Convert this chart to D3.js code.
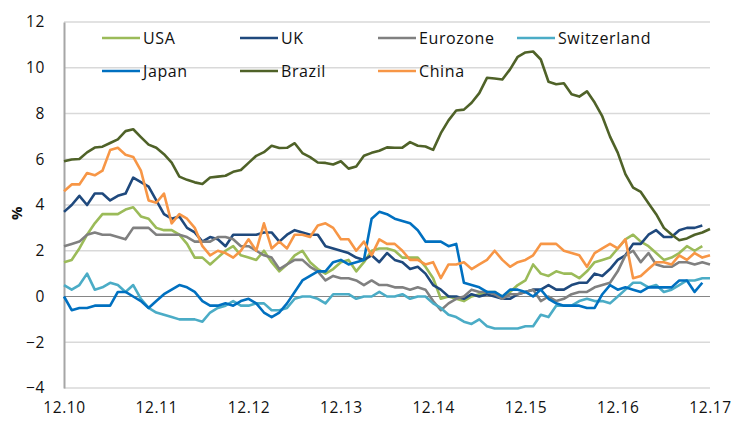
<!DOCTYPE html>
<html>
<head>
<meta charset="utf-8">
<script src="https://cdn.jsdelivr.net/npm/d3@7"></script>
<style>
  body { margin: 0; background: #fff; }
  text { font-family: "Open Sans", "Liberation Sans", sans-serif; fill: #111; letter-spacing: 0.6px; }
</style>
</head>
<body>
<div id="chart"></div>
<script>
// Monthly inflation, % y/y, Dec 2010 .. Dec 2017
const usa = [1.5,1.6,2.1,2.7,3.2,3.6,3.6,3.6,3.8,3.9,3.5,3.4,3.0,2.9,2.9,2.7,2.3,1.7,1.7,1.4,1.7,2.0,2.2,1.8,1.7,1.6,2.0,1.5,1.1,1.4,1.8,2.0,1.5,1.2,1.0,1.2,1.5,1.6,1.1,1.5,2.0,2.1,2.1,2.0,1.7,1.7,1.7,1.3,0.8,-0.1,0.0,-0.1,-0.2,0.0,0.1,0.2,0.2,0.0,0.2,0.5,0.7,1.4,1.0,0.9,1.1,1.0,1.0,0.8,1.1,1.5,1.6,1.7,2.1,2.5,2.7,2.4,2.2,1.9,1.6,1.7,1.9,2.2,2.0,2.2];
const uk = [3.7,4.0,4.4,4.0,4.5,4.5,4.2,4.4,4.5,5.2,5.0,4.8,4.2,3.6,3.4,3.5,3.0,2.8,2.4,2.6,2.5,2.2,2.7,2.7,2.7,2.7,2.8,2.8,2.4,2.7,2.9,2.8,2.7,2.7,2.2,2.1,2.0,1.9,1.7,1.6,1.8,1.5,1.9,1.6,1.5,1.2,1.3,1.0,0.5,0.3,0.0,0.0,-0.1,0.1,0.0,0.1,0.0,-0.1,-0.1,0.1,0.2,0.3,0.3,0.5,0.3,0.3,0.5,0.6,0.6,1.0,0.9,1.2,1.6,1.8,2.3,2.3,2.7,2.9,2.6,2.6,2.9,3.0,3.0,3.1];
const eurozone = [2.2,2.3,2.4,2.7,2.8,2.7,2.7,2.6,2.5,3.0,3.0,3.0,2.7,2.7,2.7,2.7,2.6,2.4,2.4,2.4,2.6,2.6,2.5,2.2,2.2,2.0,1.8,1.7,1.2,1.4,1.6,1.6,1.3,1.1,0.7,0.9,0.8,0.8,0.7,0.5,0.7,0.5,0.5,0.4,0.4,0.3,0.4,0.3,-0.2,-0.6,-0.3,-0.1,0.0,0.3,0.2,0.2,0.1,-0.1,0.1,0.1,0.2,0.3,-0.2,0.0,-0.2,-0.1,0.1,0.2,0.2,0.4,0.5,0.6,1.1,1.8,2.0,1.5,1.9,1.4,1.3,1.3,1.5,1.5,1.4,1.5,1.4];
const switzerland = [0.5,0.3,0.5,1.0,0.3,0.4,0.6,0.5,0.2,0.5,-0.1,-0.5,-0.7,-0.8,-0.9,-1.0,-1.0,-1.0,-1.1,-0.7,-0.5,-0.4,-0.2,-0.4,-0.4,-0.3,-0.3,-0.6,-0.6,-0.5,-0.1,0.0,0.0,-0.1,-0.3,0.1,0.1,0.1,-0.1,0.0,0.0,0.2,0.0,0.0,0.1,-0.1,0.0,0.0,-0.3,-0.5,-0.8,-0.9,-1.1,-1.2,-1.0,-1.3,-1.4,-1.4,-1.4,-1.4,-1.3,-1.3,-0.8,-0.9,-0.4,-0.4,-0.4,-0.2,-0.1,-0.2,-0.2,-0.3,0.0,0.3,0.6,0.6,0.4,0.5,0.2,0.3,0.5,0.7,0.7,0.8,0.8];
const japan = [0.0,-0.6,-0.5,-0.5,-0.4,-0.4,-0.4,0.2,0.2,0.0,-0.2,-0.5,-0.2,0.1,0.3,0.5,0.4,0.2,-0.2,-0.4,-0.4,-0.3,-0.4,-0.2,-0.1,-0.3,-0.7,-0.9,-0.7,-0.3,0.2,0.7,0.9,1.1,1.1,1.5,1.6,1.4,1.5,1.6,3.4,3.7,3.6,3.4,3.3,3.2,2.9,2.4,2.4,2.4,2.2,2.3,0.6,0.5,0.4,0.2,0.2,0.0,0.3,0.3,0.2,0.0,0.3,-0.1,-0.3,-0.4,-0.4,-0.4,-0.5,-0.5,0.1,0.5,0.3,0.4,0.3,0.2,0.4,0.4,0.4,0.4,0.7,0.7,0.2,0.6];
const brazil = [5.91,5.99,6.01,6.30,6.51,6.55,6.71,6.87,7.23,7.31,6.97,6.64,6.50,6.22,5.85,5.24,5.10,4.99,4.92,5.20,5.24,5.28,5.45,5.53,5.84,6.15,6.31,6.59,6.49,6.50,6.70,6.27,6.09,5.86,5.84,5.77,5.91,5.59,5.68,6.15,6.28,6.37,6.52,6.50,6.51,6.75,6.59,6.56,6.41,7.14,7.70,8.13,8.17,8.47,8.89,9.56,9.53,9.49,9.93,10.48,10.67,10.71,10.36,9.39,9.28,9.32,8.84,8.74,8.97,8.48,7.87,6.99,6.29,5.35,4.76,4.57,4.08,3.60,3.00,2.71,2.46,2.54,2.70,2.80,2.95];
const china = [4.6,4.9,4.9,5.4,5.3,5.5,6.4,6.5,6.2,6.1,5.5,4.2,4.1,4.5,3.2,3.6,3.4,3.0,2.2,1.8,2.0,1.9,1.7,2.0,2.5,2.0,3.2,2.1,2.4,2.1,2.7,2.7,2.6,3.1,3.2,3.0,2.5,2.5,2.0,2.4,1.8,2.5,2.3,2.3,2.0,1.6,1.6,1.4,1.5,0.8,1.4,1.4,1.5,1.2,1.4,1.6,2.0,1.6,1.3,1.5,1.6,1.8,2.3,2.3,2.3,2.0,1.9,1.8,1.3,1.9,2.1,2.3,2.1,2.5,0.8,0.9,1.2,1.5,1.5,1.4,1.8,1.6,1.9,1.7,1.8];

const seriesNames = ["USA", "UK", "Eurozone", "Switzerland", "Japan", "Brazil", "China"];
const seriesValues = [usa, uk, eurozone, switzerland, japan, brazil, china];
const seriesColors = ["#9bbb59", "#1f497d", "#808080", "#4bacc6", "#0070c0", "#4f6228", "#f79646"];
const xTickLabels = ["12.10", "12.11", "12.12", "12.13", "12.14", "12.15", "12.16", "12.17"];
const yTicks = [-4, -2, 0, 2, 4, 6, 8, 10, 12];

const W = 733, H = 421;
const margin = { top: 22, right: 23, bottom: 33, left: 64 },
      width = W - margin.left - margin.right,
      height = H - margin.top - margin.bottom;

const svg = d3.select("#chart").append("svg")
    .attr("width", W)
    .attr("height", H);

const g = svg.append("g")
    .attr("transform", `translate(${margin.left},${margin.top})`);

// month index 0 = Dec 2010, 84 = Dec 2017
const x = d3.scaleLinear().domain([0, 84]).range([0, width]);
const y = d3.scaleLinear().domain([-4, 12]).range([height, 0]);

// gridlines
g.append("g").selectAll("line")
    .data(yTicks.filter(d => d !== 0))
    .join("line")
    .attr("x1", 0).attr("x2", width)
    .attr("y1", d => y(d)).attr("y2", d => y(d))
    .attr("stroke", "#d9d9d9")
    .attr("stroke-width", 1.5);

// y axis
const yAxis = g.append("g")
    .call(d3.axisLeft(y).tickValues(yTicks).tickSize(0).tickPadding(19));
yAxis.select(".domain").attr("stroke", "#a6a6a6").attr("stroke-width", 2);
yAxis.selectAll("text").style("font-size", "15.5px");

// x axis labels
const xAxis = g.append("g")
    .attr("transform", `translate(0,${height})`)
    .call(d3.axisBottom(x).tickValues(d3.range(0, 85, 12))
        .tickFormat((d, i) => xTickLabels[i]).tickSize(0).tickPadding(14));
xAxis.select(".domain").remove();
xAxis.selectAll("text").style("font-size", "15.5px");

// zero line
g.append("line")
    .attr("x1", 0).attr("x2", width)
    .attr("y1", y(0)).attr("y2", y(0))
    .attr("stroke", "#868686")
    .attr("stroke-width", 1.2);

// y label
svg.append("text")
    .attr("transform", `translate(22,${margin.top + y(4) + 8}) rotate(-90)`)
    .attr("text-anchor", "middle")
    .style("font-size", "15px")
    .style("font-weight", "bold")
    .text("%");

// lines
const line = d3.line()
    .x((d, i) => x(i))
    .y(d => y(d));

g.append("g").selectAll("path")
    .data(seriesValues)
    .join("path")
    .attr("d", d => line(d))
    .attr("fill", "none")
    .attr("stroke", (d, i) => seriesColors[i])
    .attr("stroke-width", 2.6)
    .attr("stroke-linejoin", "round");

// legend
const legendPos = [[102, 38], [240, 38], [378, 38], [517, 38], [102, 71], [240, 71], [378, 71]];
const legend = svg.append("g").selectAll("g")
    .data(seriesNames)
    .join("g")
    .attr("transform", (d, i) => `translate(${legendPos[i][0]},${legendPos[i][1]})`);

legend.append("line")
    .attr("x1", 0).attr("x2", 38)
    .attr("stroke", (d, i) => seriesColors[i])
    .attr("stroke-width", 2.6);

legend.append("text")
    .attr("x", 41)
    .attr("dy", "0.35em")
    .style("font-size", "16px")
    .text(d => d);
</script>
</body>
</html>
